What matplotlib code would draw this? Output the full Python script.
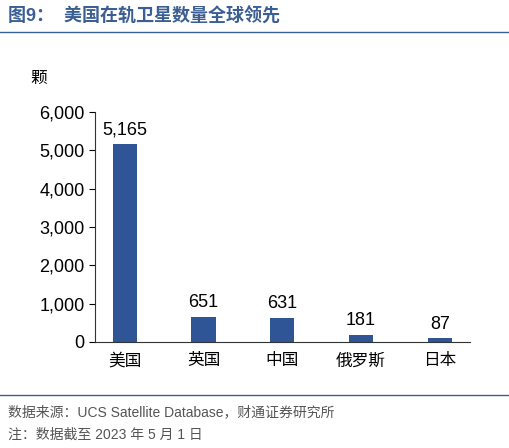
import matplotlib
matplotlib.use("Agg")
import matplotlib.pyplot as plt

plt.rcParams['font.family'] = ['Liberation Sans', 'Noto Sans CJK SC', 'DejaVu Sans']

countries = ["美国", "英国", "中国", "俄罗斯", "日本"]
counts = [5165, 651, 631, 181, 87]

BLUE = "#2f5597"
TITLE = "#3b5f93"

fig = plt.figure(figsize=(5.1, 4.48), dpi=100)
ax = fig.add_axes([0.186, 0.237, 0.735, 0.513])

xs = range(len(countries))
ax.bar(xs, counts, width=0.31, color=BLUE)
for x, v in zip(xs, counts):
    ax.text(x, v + 150, f"{v:,}", ha="center", va="bottom", fontsize=13)

ax.set_xlim(-0.38, 4.38)
ax.set_ylim(0, 6000)
ax.set_yticks(range(0, 6001, 1000))
ax.set_yticklabels([f"{t:,}" for t in range(0, 6001, 1000)], fontsize=13)
ax.set_xticks(list(xs))
ax.set_xticklabels(countries, fontsize=12)
ax.tick_params(axis="x", length=0, pad=8)
ax.tick_params(axis="y", length=4, direction="out")
ax.spines["top"].set_visible(False)
ax.spines["right"].set_visible(False)
ax.spines["left"].set_color("#333333")
ax.spines["bottom"].set_color("#333333")

fig.text(30 / 510, 1 - 78 / 448, "颗", fontsize=12, ha="left", va="center")

fig.text(8 / 510, 1 - 16 / 448, "图9：  美国在轨卫星数量全球领先", fontsize=13,
         fontweight="bold", color=TITLE, ha="left", va="center")
fig.add_artist(plt.Line2D([0, 1], [1 - 32 / 448] * 2, color=TITLE, lw=1))
fig.add_artist(plt.Line2D([0, 1], [1 - 395 / 448] * 2, color=TITLE, lw=1))
fig.text(8 / 510, 1 - 412 / 448, "数据来源：UCS Satellite Database，财通证券研究所",
         fontsize=10, color="#555555", ha="left", va="center")
fig.text(8 / 510, 1 - 435 / 448, "注：数据截至 2023 年 5 月 1 日",
         fontsize=10, color="#555555", ha="left", va="center")

fig.savefig("out.png", dpi=100)
